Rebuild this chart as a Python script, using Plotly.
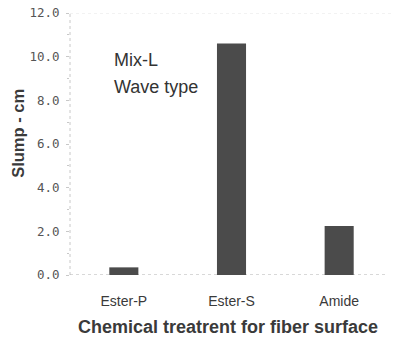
import plotly.graph_objects as go

# Slump of the Mix-L wave-type fibre mix for each surface treatment
treatments = ["Ester-P", "Ester-S", "Amide"]
slump_cm = [0.35, 10.6, 2.25]
y_ticks = [0, 2, 4, 6, 8, 10, 12]
y_tick_text = ["0.0", "2.0", "4.0", "6.0", "8.0", "10.0", "12.0"]

fig = go.Figure(
    go.Bar(
        x=treatments,
        y=slump_cm,
        marker=dict(color="#4b4b4b", line=dict(width=0)),
        width=0.27,
    )
)

axis_grey = "#c8c8c8"
text_font = "Liberation Sans, Arial"

fig.update_layout(
    width=393,
    height=344,
    margin=dict(l=70, r=0, t=13, b=69),
    paper_bgcolor="white",
    plot_bgcolor="white",
    showlegend=False,
    xaxis=dict(
        range=[-0.5, 2.5],
        showline=False,
        showgrid=False,
        ticks="",
        ticklabelstandoff=16,
        tickfont=dict(family=text_font, size=14, color="#3a3a3a"),
    ),
    yaxis=dict(
        range=[0, 12],
        tickvals=y_ticks,
        ticktext=y_tick_text,
        showline=False,
        showgrid=False,
        zeroline=False,
        ticks="outside",
        ticklen=3,
        tickcolor=axis_grey,
        ticklabelstandoff=4,
        minor=dict(dtick=1, ticks="outside", ticklen=2, tickcolor=axis_grey),
        tickfont=dict(family="DejaVu Sans Mono, monospace", size=12.5, color="#555555"),
    ),
    shapes=[
        dict(type="line", xref="paper", yref="paper", x0=0, x1=0, y0=0, y1=1,
             line=dict(color=axis_grey, width=1, dash="dot"), layer="below"),
        dict(type="line", xref="paper", yref="y", x0=0, x1=0.98, y0=0, y1=0,
             line=dict(color="#b0b0b0", width=1, dash="dot"), layer="below"),
        dict(type="line", xref="paper", yref="y", x0=0, x1=1, y0=12, y1=12,
             line=dict(color="#e6e6e6", width=1, dash="dot"), layer="below"),
    ],
    annotations=[
        dict(text="Mix-L", xref="paper", yref="paper", x=0.131, y=0.82,
             xanchor="left", yanchor="middle", showarrow=False,
             font=dict(family=text_font, size=18, color="#333333")),
        dict(text="Wave type", xref="paper", yref="paper", x=0.131, y=0.717,
             xanchor="left", yanchor="middle", showarrow=False,
             font=dict(family=text_font, size=18, color="#333333")),
        # axis titles
        dict(text="<b>Slump - cm</b>", xref="paper", yref="paper",
             x=-0.163, y=0.54, textangle=-90, xanchor="center", yanchor="middle",
             showarrow=False, font=dict(family=text_font, size=16.5, color="#3a3a3a")),
        dict(text="<b>Chemical treatrent for fiber surface</b>", xref="paper", yref="paper",
             x=0.49, y=-0.2, xanchor="center", yanchor="middle",
             showarrow=False, font=dict(family=text_font, size=18, color="#3a3a3a")),
    ],
)

fig.write_html("out.html")
